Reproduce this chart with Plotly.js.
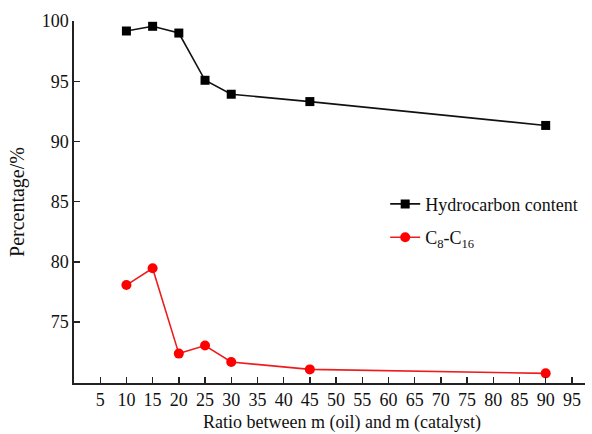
<!DOCTYPE html>
<html>
<head>
<meta charset="utf-8">
<script src="https://cdn.plot.ly/plotly-3.0.1.min.js"></script>
<style>html,body{margin:0;padding:0;background:#fff;}#chart{width:592px;height:434px;}</style>
</head>
<body>
<div id="chart"></div>
<script>
const ratio = [10, 15, 20, 25, 30, 45, 90];
const hydrocarbon = [99.17, 99.56, 99.0, 95.08, 93.92, 93.31, 91.33];
const c8c16 = [78.08, 79.47, 72.39, 73.06, 71.69, 71.08, 70.75];
const xTicks = [5, 10, 15, 20, 25, 30, 35, 40, 45, 50, 55, 60, 65, 70, 75, 80, 85, 90, 95];
const yTicks = [75, 80, 85, 90, 95, 100];
const seriesNames = ["Hydrocarbon content", "C<sub>8</sub>-C<sub>16</sub>"];
const xTitle = "Ratio between m (oil) and m (catalyst)";
const yTitle = "Percentage/%";

const serif = "Liberation Serif, Times New Roman, serif";

const traces = [
  {
    x: ratio, y: hydrocarbon, name: seriesNames[0], type: "scatter", mode: "lines+markers",
    line: {color: "#111111", width: 1.6},
    marker: {symbol: "square", size: 9, color: "#000000"},
    cliponaxis: false, legendgroup: "a"
  },
  {
    x: ratio, y: c8c16, name: seriesNames[1], type: "scatter", mode: "lines+markers",
    line: {color: "#ee1c1c", width: 1.6},
    marker: {symbol: "circle", size: 10, color: "#ff0000"},
    cliponaxis: false, legendgroup: "b"
  }
];

const layout = {
  width: 592, height: 434,
  margin: {l: 74, r: 7, t: 21, b: 51},
  paper_bgcolor: "#ffffff", plot_bgcolor: "#ffffff",
  font: {family: serif, size: 18, color: "#111111"},
  showlegend: true,
  legend: {
    x: 0.609, y: 0.545, xanchor: "left", yanchor: "top",
    bgcolor: "rgba(0,0,0,0)", borderwidth: 0,
    font: {family: serif, size: 18, color: "#111111"},
    traceorder: "grouped", tracegroupgap: 7
  },
  xaxis: {
    range: [0, 97.5],
    tickmode: "array", tickvals: xTicks, ticktext: xTicks.map(String),
    ticks: "inside", ticklen: 6, tickwidth: 1.4, tickcolor: "#222",
    showline: true, linecolor: "#222", linewidth: 1.6,
    showgrid: false, zeroline: false,
    tickfont: {family: serif, size: 18, color: "#111"}
  },
  yaxis: {
    range: [69.95, 100],
    tickmode: "array", tickvals: yTicks, ticktext: yTicks.map(String),
    ticks: "inside", ticklen: 6, tickwidth: 1.4, tickcolor: "#222",
    showline: true, linecolor: "#222", linewidth: 1.6,
    showgrid: false, zeroline: false,
    tickfont: {family: serif, size: 18, color: "#111"},
    title: {text: yTitle, font: {family: serif, size: 20, color: "#111"}, standoff: 12}
  },
  annotations: [{
    text: xTitle, xref: "paper", yref: "paper", x: 0.5235, y: -0.108,
    xanchor: "center", yanchor: "middle", showarrow: false,
    font: {family: serif, size: 18, color: "#111"}
  }]
};

Plotly.newPlot("chart", traces, layout, {staticPlot: true, displayModeBar: false});
</script>
</body>
</html>
